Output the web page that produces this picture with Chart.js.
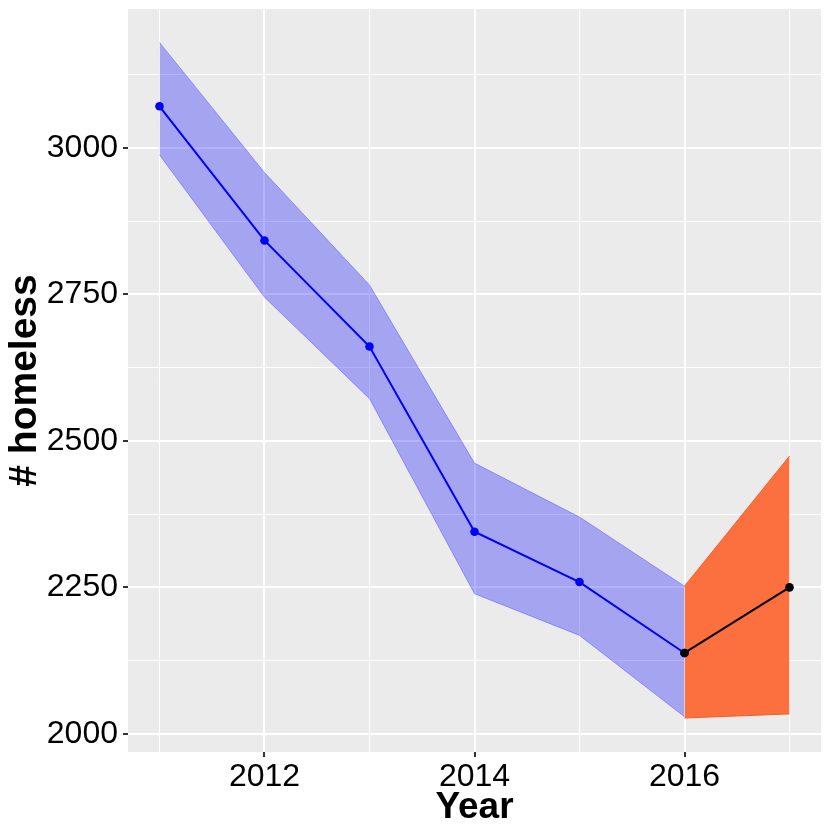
<!DOCTYPE html>
<html>
<head>
<meta charset="utf-8">
<script src="https://cdn.jsdelivr.net/npm/chart.js@4.4.1/dist/chart.umd.min.js"></script>
<style>
  body { margin: 0; background: #fff; }
  #wrap { width: 830px; height: 830px; }
</style>
</head>
<body>
<div id="wrap"><canvas id="chart"></canvas></div>
<script>
// observed counts with their band
const years = [2011, 2012, 2013, 2014, 2015, 2016];
const homeless = [3071, 2842, 2661, 2345, 2259, 2138];
const homelessUpper = [3180, 2958, 2766, 2462, 2370, 2252];
const homelessLower = [2988, 2745, 2572, 2239, 2168, 2029];

// forecast
const forecastYears = [2016, 2017];
const forecast = [2138, 2250];
const forecastUpper = [2252, 2474];
const forecastLower = [2027, 2034];

// axes
const xTicks = [2011, 2012, 2013, 2014, 2015, 2016, 2017];
const xLabels = [2012, 2014, 2016];
const yTicks = [2000, 2125, 2250, 2375, 2500, 2625, 2750, 2875, 3000, 3125];
const yLabels = [2000, 2250, 2500, 2750, 3000];

const pts = (xs, ys) => xs.map((x, i) => ({ x: x, y: ys[i] }));

const panelBg = {
    id: 'panelBg',
    beforeDraw(chart) {
        const a = chart.chartArea;
        const ctx = chart.ctx;
        ctx.save();
        ctx.fillStyle = '#EBEBEB';
        ctx.fillRect(a.left, a.top, a.right - a.left, a.bottom - a.top);
        ctx.restore();
    }
};

const band = (data, fill, bg, border) => ({
    data: data,
    fill: fill,
    backgroundColor: bg,
    borderColor: border,
    borderWidth: 1,
    pointRadius: 0,
    tension: 0,
    order: 2
});

new Chart(document.getElementById('chart'), {
    type: 'line',
    data: {
        datasets: [
            band(pts(years, homelessUpper), '+1', 'rgba(0,0,255,0.3)', 'rgba(40,40,255,0.35)'),
            band(pts(years, homelessLower), false, 'rgba(0,0,255,0.3)', 'rgba(40,40,255,0.35)'),
            band(pts(forecastYears, forecastUpper), '+1', 'rgba(253,105,55,0.95)', '#FF5A1E'),
            band(pts(forecastYears, forecastLower), false, 'rgba(253,105,55,0.95)', '#FF5A1E'),
            {
                data: pts(years, homeless),
                borderColor: '#0000FF',
                backgroundColor: '#0000FF',
                borderWidth: 2,
                pointRadius: 4.3,
                pointBorderWidth: 0,
                fill: false,
                order: 1
            },
            {
                data: pts(forecastYears, forecast),
                borderColor: '#000000',
                backgroundColor: '#000000',
                borderWidth: 2,
                pointRadius: 4.3,
                pointBorderWidth: 0,
                fill: false,
                order: 0
            }
        ]
    },
    options: {
        responsive: true,
        maintainAspectRatio: false,
        animation: false,
        layout: { padding: { top: 9, right: 9, left: 0, bottom: 0 } },
        plugins: {
            legend: { display: false },
            tooltip: { enabled: false },
            filler: { drawTime: 'beforeDatasetsDraw' }
        },
        scales: {
            x: {
                type: 'linear',
                min: 2010.7,
                max: 2017.3,
                afterBuildTicks: s => { s.ticks = xTicks.map(v => ({ value: v })); },
                afterFit: s => { s.height = 78; s.paddingLeft = 0; s.paddingRight = 0; },
                border: { display: false },
                grid: {
                    color: '#FFFFFF',
                    lineWidth: c => xLabels.includes(c.tick && c.tick.value) ? 2 : 1,
                    tickColor: c => xLabels.includes(c.tick && c.tick.value) ? '#333333' : 'rgba(0,0,0,0)',
                    tickLength: 5
                },
                ticks: {
                    autoSkip: false,
                    maxRotation: 0,
                    color: '#000000',
                    font: { family: 'Liberation Sans', size: 32 },
                    padding: 1,
                    callback: v => xLabels.includes(v) ? String(v) : ''
                },
                title: {
                    display: true,
                    text: 'Year',
                    color: '#000000',
                    font: { family: 'Liberation Sans', size: 37, weight: 'bold' },
                    padding: { top: 0, bottom: 0 }
                }
            },
            y: {
                min: 1969,
                max: 3237,
                afterBuildTicks: s => { s.ticks = yTicks.map(v => ({ value: v })); },
                afterFit: s => { s.width = 128; s.paddingTop = 0; s.paddingBottom = 0; },
                border: { display: false },
                grid: {
                    color: '#FFFFFF',
                    lineWidth: c => yLabels.includes(c.tick && c.tick.value) ? 2 : 1,
                    tickColor: c => yLabels.includes(c.tick && c.tick.value) ? '#333333' : 'rgba(0,0,0,0)',
                    tickLength: 5
                },
                ticks: {
                    autoSkip: false,
                    color: '#000000',
                    font: { family: 'Liberation Sans', size: 32 },
                    padding: 5,
                    callback: v => yLabels.includes(v) ? String(v) : ''
                },
                title: {
                    display: true,
                    text: '# homeless',
                    color: '#000000',
                    font: { family: 'Liberation Sans', size: 39, weight: 'bold' },
                    padding: { top: 2, bottom: 0 }
                }
            }
        }
    },
    plugins: [panelBg]
});
</script>
</body>
</html>
